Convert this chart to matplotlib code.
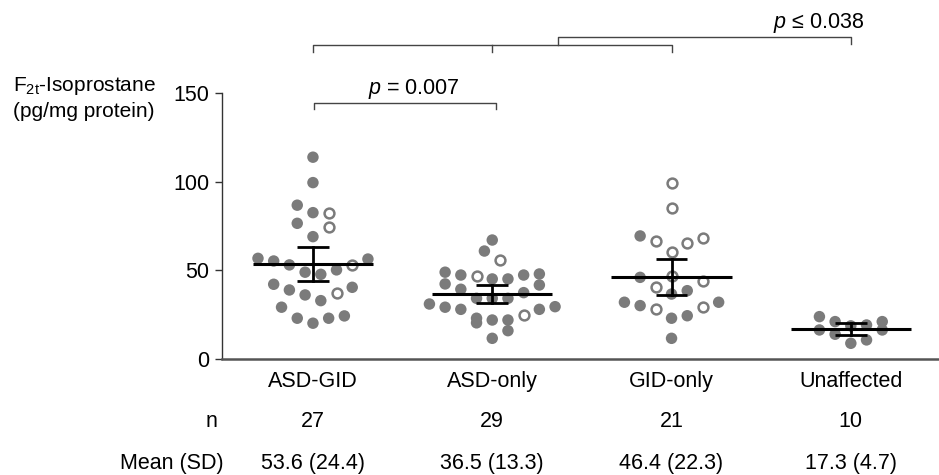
import numpy as np
import matplotlib
matplotlib.use('Agg')
import matplotlib.pyplot as plt

plt.rcParams['font.family'] = ['Liberation Sans', 'DejaVu Sans']
plt.rcParams['mathtext.fontset'] = 'custom'
plt.rcParams['mathtext.rm'] = 'Liberation Sans'
plt.rcParams['mathtext.it'] = 'Liberation Sans:italic'
plt.rcParams['mathtext.default'] = 'regular'

# data (pg/mg protein)
groups = ['ASD-GID', 'ASD-only', 'GID-only', 'Unaffected']
asd_gid_filled = [113.7, 99.4, 86.7, 82.5, 76.5, 69.0, 56.8, 53.1, 50.3, 47.8, 49.0, 55.3,
                  56.4, 42.2, 39.0, 36.2, 33.0, 40.5, 29.3, 23.1, 20.3, 23.1, 24.4]
asd_gid_open = [82.5, 74.3, 53.1, 37.1]
asd_only_filled = [67.1, 60.9, 48.0, 47.4, 45.2, 45.2, 47.4, 49.0, 42.4, 39.4, 41.8, 37.5,
                   34.3, 34.3, 34.3, 29.6, 28.1, 22.1, 22.1, 23.1, 28.1, 29.3, 31.1, 16.1,
                   11.8, 20.5]
asd_only_open = [55.9, 46.9, 24.9]
gid_only_filled = [69.4, 46.1, 36.7, 38.6, 32.1, 30.2, 32.1, 24.5, 23.1, 11.8]
gid_only_open = [99.0, 85.3, 66.6, 65.6, 68.1, 60.6, 46.9, 44.1, 40.5, 29.3, 28.3]
unaffected_filled = [21.2, 16.5, 19.3, 14.1, 18.8, 9.0, 21.2, 10.9, 24.0, 16.5]
unaffected_open = []

n_vals = [27, 29, 21, 10]
means = [53.6, 36.5, 46.4, 17.3]
sds = [24.4, 13.3, 22.3, 4.7]
t_crit = [2.056, 2.048, 2.086, 2.262]  # 95% CI, df = n-1

filled = [asd_gid_filled, asd_only_filled, gid_only_filled, unaffected_filled]
opened = [asd_gid_open, asd_only_open, gid_only_open, unaffected_open]

gray = '#7b7b7b'
fs = 15.5
step = 0.0876    # column spacing of dots
row_h = 9.4      # height of one dot row in data units


def swarm_x(vals, center):
    vals = np.asarray(vals)
    order = np.argsort(vals, kind='stable')
    rows, cur = [], []
    for i in order:
        if cur and vals[i] - vals[cur[0]] >= row_h:
            rows.append(cur)
            cur = []
        cur.append(i)
    rows.append(cur)
    xs = np.zeros(len(vals))
    for row in rows:
        n = len(row)
        slots = (np.arange(n) - (n - 1) / 2.0) * step
        slot_order = sorted(range(n), key=lambda k: (round(abs(slots[k]), 6), -slots[k]))
        for i, k in zip(row, slot_order):
            xs[i] = center + slots[k]
    return xs


fig = plt.figure(figsize=(9.39, 4.75), dpi=100)
ax = fig.add_axes([0.2361, 0.2436, 0.7628, 0.5613])

for g in range(len(groups)):
    vals = filled[g] + opened[g]
    is_open = np.array([False] * len(filled[g]) + [True] * len(opened[g]))
    xs = swarm_x(vals, g)
    vals = np.array(vals)
    ax.scatter(xs[~is_open], vals[~is_open], s=68, color=gray, edgecolors='none', zorder=2)
    if is_open.any():
        ax.scatter(xs[is_open], vals[is_open], s=50, facecolors='white', edgecolors=gray,
                   linewidths=1.8, zorder=2)
    # mean and 95% CI
    ci = t_crit[g] * sds[g] / np.sqrt(n_vals[g])
    ax.plot([g - 0.335, g + 0.335], [means[g], means[g]], color='black', lw=2.2, zorder=3,
            solid_capstyle='butt')
    ax.plot([g, g], [means[g] - ci, means[g] + ci], color='black', lw=2.0, zorder=3)
    for yy in (means[g] - ci, means[g] + ci):
        ax.plot([g - 0.089, g + 0.089], [yy, yy], color='black', lw=2.0, zorder=3,
                solid_capstyle='butt')

ax.set_xlim(-0.509, 3.486)
ax.set_ylim(0, 150)
ax.set_yticks([0, 50, 100, 150])
ax.tick_params(axis='y', labelsize=fs, length=5, width=1, color='#333333', pad=4)
ax.set_xticks([])
ax.spines['top'].set_visible(False)
ax.spines['right'].set_visible(False)
ax.spines['left'].set_color('#333333')
ax.spines['left'].set_linewidth(1)
ax.spines['bottom'].set_color('#555555')
ax.spines['bottom'].set_linewidth(1.8)

# significance brackets
bk = dict(color='#444444', lw=1.0, clip_on=False)
ax.plot([0, 0, 2, 2], [173.1, 176.9, 176.9, 173.1], **bk)
ax.plot([1, 1], [173.1, 176.9], **bk)
ax.plot([1.368, 1.368, 3.0, 3.0], [176.9, 181.2, 181.2, 177.3], **bk)
ax.plot([0.007, 0.007, 1.019, 1.019], [140.8, 144.0, 144.0, 140.8], **bk)
ax.text(0.56, 149.3, r'$\mathit{p}$ = 0.007', ha='center', va='baseline', fontsize=fs,
        clip_on=False)
ax.text(2.82, 186.4, '$\\mathit{p}$ \u2264 0.038', ha='center', va='baseline', fontsize=fs,
        clip_on=False)

# table rows under the axis
tr = ax.get_xaxis_transform()
for g in range(len(groups)):
    ax.text(g, -0.085, groups[g], transform=tr, ha='center', va='center', fontsize=fs)
    ax.text(g, -0.235, str(n_vals[g]), transform=tr, ha='center', va='center', fontsize=fs)
    ax.text(g, -0.389, '%.1f (%.1f)' % (means[g], sds[g]), transform=tr,
            ha='center', va='center', fontsize=fs)
ax.text(-0.53, -0.235, 'n', transform=tr, ha='right', va='center', fontsize=fs)
ax.text(-0.50, -0.389, 'Mean (SD)', transform=tr, ha='right', va='center', fontsize=fs)

fig.text(13 / 939, 0.8085, 'F$_{2t}$-Isoprostane', ha='left', va='baseline', fontsize=15)
fig.text(13 / 939, 0.7540, '(pg/mg protein)', ha='left', va='baseline', fontsize=15)

fig.savefig('out.png', dpi=100)
